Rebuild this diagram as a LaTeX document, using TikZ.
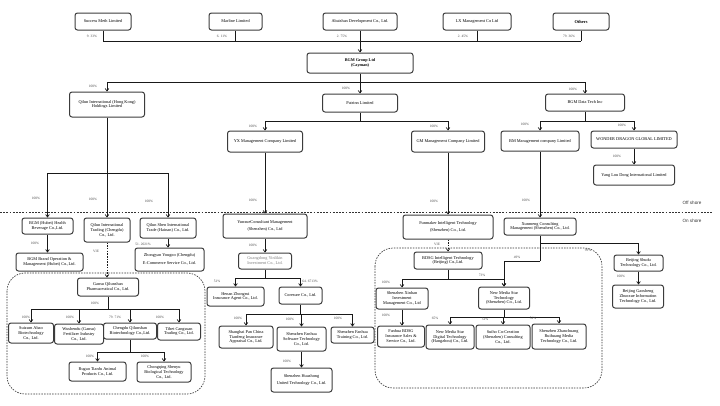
\documentclass[tikz,border=0pt]{standalone}
\usepackage{fontspec}
\setmainfont{Liberation Serif}
\newfontfamily\shorefont{Liberation Sans}
\usetikzlibrary{arrows.meta}
\definecolor{boxgray}{RGB}{60,60,60}
\begin{document}
\begin{tikzpicture}[x=1pt,y=-1pt,
 box/.style={draw=boxgray, line width=1pt, rounded corners=2.5pt, fill=white, align=center, inner sep=0.3pt, font=\fontsize{4.3}{4.9}\selectfont, text=black},
 pct/.style={font=\fontsize{3.5}{4}\selectfont, text=black!70, inner sep=0pt},
 ln/.style={line width=0.7pt, draw=black!90},
 arr/.style={ln, -{Straight Barb[length=2.4pt,width=3.6pt]}},
 darr/.style={arr, dash pattern=on 1.5pt off 1.2pt},
 region/.style={draw=black!80, line width=0.65pt, dash pattern=on 1.5pt off 1.2pt, rounded corners=18pt},
 shore/.style={font=\shorefont\fontsize{4.6}{5}\selectfont, text=black!80, inner sep=0pt}
]
\fill[white] (0,0) rectangle (720,405);
\useasboundingbox (0,0) rectangle (720,405);

% bus levels
\coordinate (b0) at (0,41);
\coordinate (b1) at (0,82);
\coordinate (b2) at (0,121);
\coordinate (b3) at (0,173);
\coordinate (b4) at (0,309);
\coordinate (b5) at (0,352);
\coordinate (b6) at (0,278);
\coordinate (b7) at (0,314);
\coordinate (b8) at (0,279);
\coordinate (b9) at (0,261);
\coordinate (b10) at (0,243);
\coordinate (b11) at (0,317);

% regions and shore line
\draw[region] (7,273) rectangle (205,394);
\draw[region] (375,248) rectangle (602,388);
\draw[line width=0.65pt, draw=black!80, dash pattern=on 1.8pt off 1.4pt] (0,212) -- (712,212);
\node[shore] (off) at (692,203) {Off shore};
\node[shore] (on) at (692,221) {On shore};

% top shareholders
\node[box, minimum width=56pt, minimum height=17pt] (succ) at (103,21.5) {Success Meth Limited};
\node[box, minimum width=53pt, minimum height=17pt] (marl) at (235.5,21.5) {Marline Limited};
\node[box, minimum width=74pt, minimum height=17pt] (abai) at (360,21.5) {Abaishan Development Co., Ltd.};
\node[box, minimum width=68pt, minimum height=17pt] (lx) at (477,21.5) {LX Management Co Ltd};
\node[box, minimum width=56pt, minimum height=17pt, font=\fontsize{4.4}{5}\selectfont\bfseries] (oth) at (581,21.5) {Others};

\node[box, minimum width=106pt, minimum height=20pt, font=\fontsize{4.2}{4.8}\selectfont\bfseries] (bgm) at (360,63) {BGM Group Ltd\\(Cayman)};

% level 2 offshore
\node[box, minimum width=75pt, minimum height=25pt] (qilun) at (107,104.5) {Qilun International (Hong Kong)\\Holdings Limited};
\node[box, minimum width=75pt, minimum height=18pt] (patr) at (360,103) {Patrinn Limited};
\node[box, minimum width=79pt, minimum height=17pt] (bgmdt) at (585,102.5) {BGM Data Tech Inc};

\node[box, minimum width=75pt, minimum height=21pt] (yx) at (265,141.5) {YX Management Company Limited};
\node[box, minimum width=73pt, minimum height=21pt] (gm) at (448,141.5) {GM Management Company Limited};
\node[box, minimum width=78pt, minimum height=20pt] (bm) at (540,141) {BM Management company Limited};
\node[box, minimum width=86pt, minimum height=17pt] (wd) at (634,139.5) {WONDER DRAGON GLOBAL LIMITED};
\node[box, minimum width=81pt, minimum height=20pt] (ylyd) at (634,175) {Yang Lou Dong International Limited};

% onshore left
\node[box, minimum width=51pt, minimum height=16pt] (hubei) at (47.5,226) {BGM (Hubei) Health\\Beverage Co.,Ltd.};
\node[box, minimum width=46pt, minimum height=24pt] (qtrade) at (107,230) {Qilun International\\Trading (Chengdu)\\Co., Ltd.};
\node[box, minimum width=56pt, minimum height=20pt] (qshen) at (168,228) {Qilun Shen International\\Trade (Hainan) Co., Ltd.};
\node[box, minimum width=67pt, minimum height=18pt] (brand) at (49.5,262) {BGM Brand Operation \&\\Management (Hubei) Co.,Ltd.};
\node[box, minimum width=69pt, minimum height=23pt] (zhong) at (169.5,259.5) {Zhongyan Yougoo (Chengdu)\\[3pt]E-Commerce Service Co., Ltd.};
\node[box, minimum width=61pt, minimum height=18pt] (gansu) at (108,287) {Gansu Qilunshan\\Pharmaceutical Co., Ltd.};

\node[box, minimum width=45pt, minimum height=20pt] (suizum) at (31,333) {Suizum Abao\\Biotechnology\\Co., Ltd.};
\node[box, minimum width=49pt, minimum height=20pt] (wushen) at (79,334) {Wushendu (Gansu)\\Fertilizer Industry\\Co., Ltd.};
\node[box, minimum width=53pt, minimum height=16pt] (chengdu) at (130,331) {Chengdu Qilunshan\\Biotechnology Co.,Ltd.};
\node[box, minimum width=43pt, minimum height=17pt] (tibet) at (179,331.5) {Tibet Cangsuan\\Trading Co., Ltd.};
\node[box, minimum width=57pt, minimum height=19pt] (rugao) at (97.5,371.5) {Rugao Tianfu Animal\\Products Co., Ltd.};
\node[box, minimum width=54pt, minimum height=20pt] (chongq) at (164,372) {Chongqing Shenyu\\Biological Technology\\Co., Ltd.};

% onshore middle
\node[box, minimum width=84pt, minimum height=24pt] (yunxue) at (265,226) {YunxueConsultant Management\\[3pt](Shenzhen) Co., Ltd};
\node[box, minimum width=53pt, minimum height=16pt, text=black!50] (guangd) at (265,261) {Guangdong Yinlikin\\Investment Co., Ltd.};
\node[box, minimum width=57pt, minimum height=19pt] (henan) at (235.5,296.5) {Henan Zhongrui\\Insurance Agent Co., Ltd.};
\node[box, minimum width=43pt, minimum height=17pt] (cores) at (300.5,295.5) {Coresure Co., Ltd.};
\node[box, minimum width=54pt, minimum height=22pt] (panch) at (246,337) {Shanghai Pan China\\Tianfeng Insurance\\Appraisal Co., Ltd.};
\node[box, minimum width=49pt, minimum height=24pt] (fsoft) at (301.5,339) {Shenzhen Fanhua\\Software Technology\\Co., Ltd.};
\node[box, minimum width=43pt, minimum height=16pt] (ftrain) at (352.5,335) {Shenzhen Fanhua\\Training Co., Ltd.};
\node[box, minimum width=61pt, minimum height=24pt] (huaz) at (301.5,380) {Shenzhen Huazhong\\[3pt]United Technology Co., Ltd.};

% onshore right
\node[box, minimum width=90pt, minimum height=24pt] (funm) at (448,227) {Funmaker Intelligent Technology\\[3pt](Shenzhen) Co., Ltd.};
\node[box, minimum width=72pt, minimum height=17pt] (xunm) at (540,226.5) {Xunmeng Consulting\\Management (Shenzhen) Co., Ltd.};
\node[box, minimum width=68pt, minimum height=17pt] (bdsg) at (448,260.5) {BDSG Intelligent Technology\\(Beijing) Co.,Ltd.};
\node[box, minimum width=52pt, minimum height=21pt] (xinhan) at (402,298.5) {Shenzhen Xinhan\\Investment\\Management Co., Ltd};
\node[box, minimum width=51pt, minimum height=22pt] (nms) at (504,298) {New Media Star\\Technology\\(Shenzhen) Co., Ltd.};
\node[box, minimum width=47pt, minimum height=21pt] (fbdsg) at (401,336.5) {Fanhua BDSG\\Insurance Sales \&\\Service Co., Ltd.};
\node[box, minimum width=48pt, minimum height=24pt] (nmsd) at (450,337) {New Media Star\\Digital Technology\\(Hangzhou) Co., Ltd.};
\node[box, minimum width=54pt, minimum height=24pt] (suiho) at (503,337) {Suiho Co-Creation\\(Shenzhen) Consulting\\Co., Ltd.};
\node[box, minimum width=54pt, minimum height=25pt] (zhanch) at (559,336.5) {Shenzhen Zhanchuang\\Ruihuang Media\\Technology Co., Ltd.};
\node[box, minimum width=49pt, minimum height=16pt] (bshudu) at (638.5,263) {Beijing Shudu\\Technology Co., Ltd.};
\node[box, minimum width=51pt, minimum height=23pt] (bgao) at (638,296.5) {Beijing Gaosheng\\Zhuoxue Information\\Technology Co., Ltd.};

% connectors: top
\foreach \n in {succ,marl,lx,oth} \draw[ln] (\n.south) -- (\n.south |- b0);
\draw[ln] (succ.south |- b0) -- (oth.south |- b0);
\draw[arr] (abai.south) -- (bgm.north);

\draw[ln] (bgm.south) -- (bgm.south |- b1);
\draw[arr] (bgm.south |- b1) -| (qilun.north);
\draw[arr] (bgm.south |- b1) -| (bgmdt.north);
\draw[arr] (bgm.south) -- (patr.north);

\draw[ln] (patr.south) -- (patr.south |- b2);
\draw[arr] (patr.south |- b2) -| (yx.north);
\draw[arr] (patr.south |- b2) -| (gm.north);
\draw[ln] (bgmdt.south) -- (bgmdt.south |- b2);
\draw[arr] (bgmdt.south |- b2) -| (bm.north);
\draw[arr] (bgmdt.south |- b2) -| (wd.north);
\draw[arr] (wd.south) -- (ylyd.north);

% left tree
\draw[ln] (qilun.south) -- (qilun.south |- b3);
\draw[arr] (qilun.south |- b3) -| (hubei.north);
\draw[arr] (qilun.south |- b3) -| (qtrade.north);
\draw[arr] (qilun.south |- b3) -| (qshen.north);
\draw[arr] (hubei.south) -- (hubei.south |- brand.north);
\draw[arr] (qshen.south) -- (qshen.south |- zhong.north);
\draw[darr] (qtrade.south) -- (qtrade.south |- gansu.north);
\draw[ln] (gansu.south) -- (gansu.south |- b4);
\foreach \n in {suizum,wushen,chengdu,tibet} \draw[arr] (gansu.south |- b4) -| (\n.north);
\draw[ln] (chengdu.south) -- (chengdu.south |- b5);
\draw[arr] (chengdu.south |- b5) -| (rugao.north);
\draw[arr] (chengdu.south |- b5) -| (chongq.north);

% middle tree
\draw[arr] (yx.south) -- (yunxue.north);
\draw[arr] (yunxue.south) -- (guangd.north);
\draw[ln] (guangd.south) -- (guangd.south |- b6);
\draw[arr] (guangd.south |- b6) -| (henan.north);
\draw[arr] (guangd.south |- b6) -| (cores.north);
\draw[ln] (cores.south) -- (cores.south |- b7);
\foreach \n in {panch,fsoft,ftrain} \draw[arr] (cores.south |- b7) -| (\n.north);
\draw[arr] (fsoft.south) -- (fsoft.south |- huaz.north);

% right tree
\draw[arr] (gm.south) -- (funm.north);
\draw[arr] (bm.south) -- (xunm.north);
\draw[darr] (funm.south) -- (bdsg.north);
\draw[ln] (bdsg.south) -- (bdsg.south |- b8);
\draw[arr] (bdsg.south |- b8) -| (xinhan.north);
\draw[arr] (bdsg.south |- b8) -| (nms.north);
\draw[ln] (xunm.south) -- (xunm.south |- b9);
\draw[arr] (xunm.south |- b9) -| (nms.north);
\draw[arr] (xunm.south |- b10) -| (bshudu.north);
\draw[arr] (bshudu.south) -- (bshudu.south |- bgao.north);
\draw[arr] (xinhan.south) -- (xinhan.south |- fbdsg.north);
\draw[ln] (nms.south) -- (nms.south |- b11);
\foreach \n in {nmsd,suiho,zhanch} \draw[arr] (nms.south |- b11) -| (\n.north);

% percentage labels
\node[pct] (p1) at (92,36) {9. 33\%};
\node[pct] (p2) at (222,36) {6. 11\%};
\node[pct] (p3) at (342,36) {2. 75\%};
\node[pct] (p4) at (463,36) {2. 45\%};
\node[pct] (p5) at (569,36) {79. 36\%};
\node[pct] (p6) at (93,86) {100\%};
\node[pct] (p7) at (346,88) {100\%};
\node[pct] (p8) at (573,89) {100\%};
\node[pct] (p9) at (253,126) {100\%};
\node[pct] (p10) at (434,126) {100\%};
\node[pct] (p11) at (525,124) {100\%};
\node[pct] (p12) at (622,125) {100\%};
\node[pct] (p13) at (617,156) {100\%};
\node[pct] (p14) at (36,198) {100\%};
\node[pct] (p15) at (93,199) {100\%};
\node[pct] (p16) at (149,201) {100\%};
\node[pct] (p17) at (253,200) {100\%};
\node[pct] (p18) at (434,201) {100\%};
\node[pct] (p19) at (526,200) {100\%};
\node[pct] (p20) at (35,243) {100\%};
\node[pct] (p21) at (143,244) {51. 2021\%};
\node[pct] (p22) at (96,251) {VIE};
\node[pct] (p23) at (95,303) {100\%};
\node[pct] (p24) at (26,317) {100\%};
\node[pct] (p25) at (70,317) {100\%};
\node[pct] (p26) at (115,317) {79. 71\%};
\node[pct] (p27) at (160,317) {100\%};
\node[pct] (p28) at (90,356) {100\%};
\node[pct] (p29) at (145,356) {100\%};
\node[pct] (p30) at (253,245) {100\%};
\node[pct] (p31) at (217,281) {51\%};
\node[pct] (p32) at (310,281) {64. 6713\%};
\node[pct] (p33) at (238,318) {100\%};
\node[pct] (p34) at (290,319) {100\%};
\node[pct] (p35) at (338,318) {100\%};
\node[pct] (p36) at (287,361) {100\%};
\node[pct] (p37) at (437,244) {VIE};
\node[pct] (p38) at (386,282) {100\%};
\node[pct] (p39) at (482,275) {73\%};
\node[pct] (p40) at (517,257) {49\%};
\node[pct] (p41) at (588,250) {99\%};
\node[pct] (p42) at (621,276) {100\%};
\node[pct] (p43) at (386,315) {100\%};
\node[pct] (p44) at (435,318) {65\%};
\node[pct] (p45) at (485,319) {51\%};
\node[pct] (p46) at (533,318) {51\%};
\end{tikzpicture}
\end{document}
